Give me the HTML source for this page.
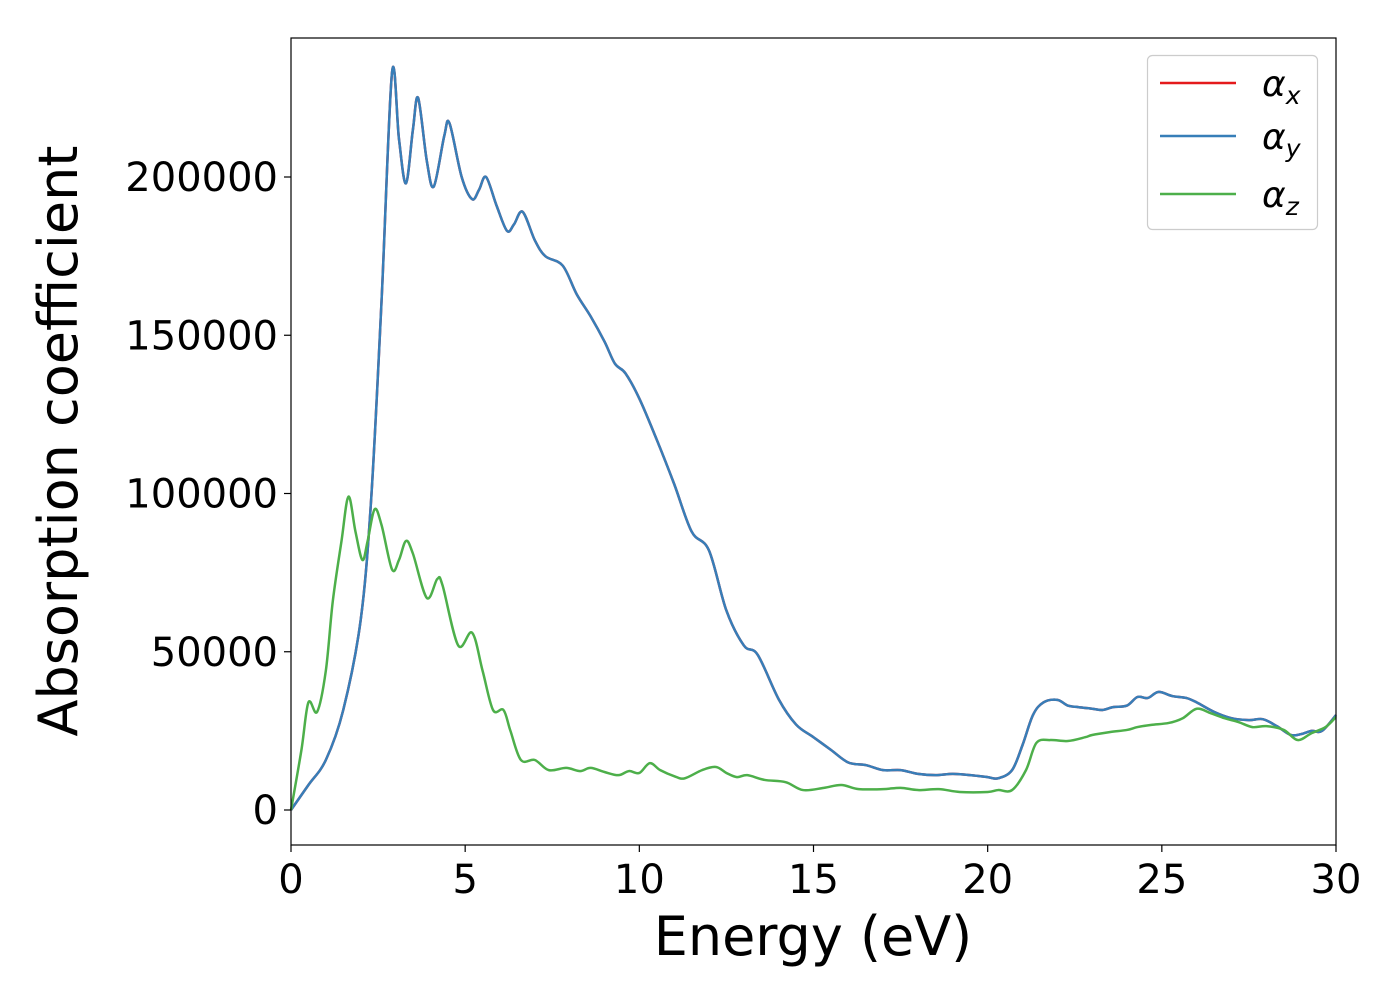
<!DOCTYPE html>
<html><head><meta charset="utf-8"><style>
html,body{margin:0;padding:0;background:#fff;}
svg{display:block;font-family:"DejaVu Sans","Liberation Sans",sans-serif;}
</style></head><body>
<svg id="chart" width="1400" height="1000" viewBox="0 0 1400 1000">
<rect x="0" y="0" width="1400" height="1000" fill="#fff"/>
<g id="plot"></g>
<rect x="291" y="38" width="1045" height="807" fill="none" stroke="#000" stroke-width="1.2"/>
<g id="axes"></g>
<text x="813" y="955" font-size="54" text-anchor="middle">Energy (eV)</text>
<text transform="translate(77,441) rotate(-90)" font-size="54" text-anchor="middle">Absorption coefficient</text>
<g>
<rect x="1147.5" y="55.5" width="170" height="174" rx="5" fill="#fff" fill-opacity="0.8" stroke="#ccc" stroke-width="1.2"/>
<line x1="1160" y1="83" x2="1236" y2="83" stroke="#e41a1c" stroke-width="2.5"/>
<text x="1262" y="96" font-size="36" font-style="italic">α<tspan font-size="25" dy="8">x</tspan></text>
<line x1="1160" y1="136" x2="1236" y2="136" stroke="#377eb8" stroke-width="2.5"/>
<text x="1262" y="149" font-size="36" font-style="italic">α<tspan font-size="25" dy="8">y</tspan></text>
<line x1="1160" y1="194" x2="1236" y2="194" stroke="#4daf4a" stroke-width="2.5"/>
<text x="1262" y="207" font-size="36" font-style="italic">α<tspan font-size="25" dy="8">z</tspan></text>
</g>
</svg>
<script>
const energyXY=[0,0.5,1.0,1.5,2.0,2.3,2.6,2.9,3.1,3.3,3.5,3.65,3.9,4.1,4.4,4.55,4.9,5.2,5.4,5.6,5.9,6.2,6.4,6.65,7.0,7.3,7.8,8.2,8.6,9.0,9.3,9.6,10.0,10.5,11.0,11.5,12.0,12.5,13.0,13.4,14.0,14.5,15.0,15.5,16.0,16.5,17.0,17.5,18.0,18.5,19.0,19.5,20.0,20.3,20.7,21.0,21.3,21.6,22.0,22.3,22.6,23.0,23.3,23.6,24.0,24.3,24.6,24.9,25.3,25.7,26.0,26.5,27.0,27.5,27.9,28.3,28.7,29.0,29.3,29.6,30];
const alphaXY=[0,7900,15800,31600,60000,98000,161000,233000,212000,198000,215000,225000,205000,197000,213000,217000,200000,193000,196000,200000,191000,183000,185000,189000,180000,175000,172000,163000,156000,148000,141000,138000,130000,117000,103000,88000,82000,63000,52000,49000,35000,27000,23000,19000,15000,14200,12600,12600,11400,11000,11400,11000,10400,10000,12600,20500,30000,34000,34800,33000,32500,32000,31600,32500,33000,35700,35400,37300,36000,35400,34000,31000,29000,28400,28700,26500,23700,24000,25000,25000,30000];
const energyZ=[0,0.3,0.5,0.75,1.0,1.2,1.45,1.65,1.85,2.05,2.2,2.4,2.6,2.9,3.1,3.3,3.5,3.9,4.2,4.35,4.8,5.2,5.5,5.8,6.1,6.3,6.6,7.0,7.4,7.9,8.3,8.6,9.0,9.4,9.7,10.0,10.3,10.6,11.0,11.3,11.8,12.2,12.5,12.8,13.1,13.6,14.2,14.7,15.3,15.8,16.3,17.0,17.5,18.0,18.6,19.2,20.0,20.3,20.7,21.1,21.4,21.8,22.3,22.8,23.0,23.5,24.0,24.3,24.7,25.2,25.6,26.0,26.4,26.8,27.2,27.6,28.0,28.5,28.9,29.3,29.7,30];
const alphaZ=[0,19000,34000,31000,44000,66000,85000,99000,88000,79000,85000,95000,90000,76000,79000,85000,81000,67000,73000,71000,52000,56000,44000,31600,31600,25000,15800,15800,12600,13300,12300,13300,12000,11000,12300,11700,14800,12600,10700,10000,12600,13600,11700,10400,11000,9500,8800,6300,7000,7900,6600,6600,7000,6300,6600,5700,5700,6300,6300,12600,21200,22100,21800,23000,23700,24600,25300,26200,26900,27500,29000,32000,30600,29000,27800,26200,26500,25300,22100,24300,26200,29400];
const xTicks=[0,5,10,15,20,25,30];
const xTickLabels=["0","5","10","15","20","25","30"];
const yTicks=[0,50000,100000,150000,200000];
const yTickLabels=["0","50000","100000","150000","200000"];

const X0=291,X1=1336,Y0pix=810;
const xs=v=>X0+(v-0)/(30-0)*(X1-X0);
const ys=v=>Y0pix-v*(633/200000);
const NS="http://www.w3.org/2000/svg";
function pathFor(ex,ay){
  const p=ex.map((e,i)=>[xs(e),ys(ay[i])]);
  let d="M"+p[0][0].toFixed(2)+","+p[0][1].toFixed(2);
  for(let i=0;i<p.length-1;i++){
    const a=p[Math.max(i-1,0)],b=p[i],c=p[i+1],e=p[Math.min(i+2,p.length-1)];
    const c1=[b[0]+(c[0]-a[0])/6,b[1]+(c[1]-a[1])/6];
    const c2=[c[0]-(e[0]-b[0])/6,c[1]-(e[1]-b[1])/6];
    d+="C"+c1.map(v=>v.toFixed(2))+" "+c2.map(v=>v.toFixed(2))+" "+c[0].toFixed(2)+","+c[1].toFixed(2);
  }
  return d;
}
const plot=document.getElementById("plot");
function addLine(ex,ay,col,name){
  const el=document.createElementNS(NS,"path");
  el.setAttribute("d",pathFor(ex,ay));
  el.setAttribute("fill","none");
  el.setAttribute("stroke",col);
  el.setAttribute("stroke-width","2.5");
  el.setAttribute("stroke-linejoin","round");
  
  
  plot.appendChild(el);
}
addLine(energyXY,alphaXY,"#e41a1c","series-alpha-x");
addLine(energyXY,alphaXY,"#377eb8","series-alpha-y");
addLine(energyZ,alphaZ,"#4daf4a","series-alpha-z");
const axes=document.getElementById("axes");
xTicks.forEach((t,i)=>{
  const x=xs(t);
  const l=document.createElementNS(NS,"line");
  l.setAttribute("x1",x);l.setAttribute("x2",x);l.setAttribute("y1",845);l.setAttribute("y2",852);
  l.setAttribute("stroke","#000");l.setAttribute("stroke-width","1.2");
  
  
  axes.appendChild(l);
  const tx=document.createElementNS(NS,"text");
  tx.setAttribute("x",x);tx.setAttribute("y",893);tx.setAttribute("font-size","40");tx.setAttribute("text-anchor","middle");
  tx.textContent=xTickLabels[i];
  
  
  axes.appendChild(tx);
});
yTicks.forEach((t,i)=>{
  const y=ys(t);
  const l=document.createElementNS(NS,"line");
  l.setAttribute("x1",284);l.setAttribute("x2",291);l.setAttribute("y1",y);l.setAttribute("y2",y);
  l.setAttribute("stroke","#000");l.setAttribute("stroke-width","1.2");
  
  
  axes.appendChild(l);
  const tx=document.createElementNS(NS,"text");
  tx.setAttribute("x",278);tx.setAttribute("y",y+14);tx.setAttribute("font-size","40");tx.setAttribute("text-anchor","end");
  tx.textContent=yTickLabels[i];
  
  
  axes.appendChild(tx);
});
</script>
</body></html>
